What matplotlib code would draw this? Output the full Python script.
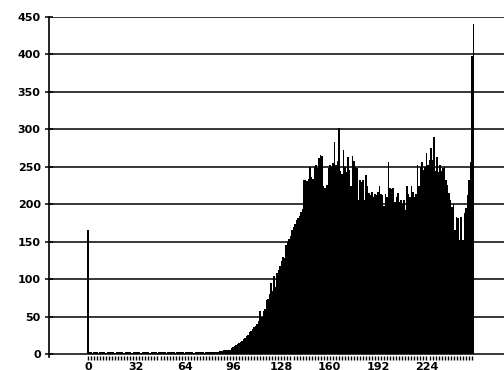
import matplotlib
matplotlib.use("Agg")
import matplotlib.pyplot as plt
import numpy as np

# Histogram counts for grey levels 0..255
counts_000_015 = [165, 3, 3, 2, 3, 3, 3, 2, 3, 3, 3, 3, 2, 3, 3, 3]
counts_016_031 = [3, 3, 2, 3, 3, 3, 3, 3, 2, 3, 3, 3, 3, 2, 3, 3]
counts_032_047 = [3, 3, 3, 2, 3, 3, 3, 3, 3, 2, 3, 3, 3, 3, 2, 3]
counts_048_063 = [3, 3, 3, 3, 2, 3, 3, 3, 3, 3, 2, 3, 3, 3, 3, 3]
counts_064_079 = [2, 3, 3, 3, 3, 3, 2, 3, 3, 3, 3, 3, 3, 2, 3, 3]
counts_080_095 = [3, 3, 3, 3, 3, 3, 3, 4, 4, 4, 5, 5, 5, 6, 6, 8]
counts_096_111 = [9, 11, 12, 13, 15, 16, 18, 20, 22, 24, 26, 29, 31, 33, 36, 38]
counts_112_127 = [40, 44, 58, 50, 57, 60, 72, 74, 80, 95, 84, 104, 90, 108, 112, 118]
counts_128_143 = [124, 130, 128, 146, 150, 154, 158, 166, 170, 174, 179, 181, 184, 190, 194, 232]
counts_144_159 = [233, 231, 234, 250, 236, 234, 250, 252, 248, 262, 266, 264, 224, 222, 226, 248]
counts_160_175 = [252, 250, 255, 283, 253, 258, 302, 245, 240, 272, 250, 243, 263, 246, 225, 265]
counts_176_191 = [258, 250, 248, 205, 232, 230, 233, 205, 239, 224, 215, 212, 216, 210, 214, 212]
counts_192_207 = [216, 225, 214, 212, 197, 214, 210, 257, 222, 220, 222, 203, 210, 215, 203, 205]
counts_208_223 = [200, 206, 192, 224, 214, 210, 224, 216, 210, 214, 252, 224, 250, 256, 246, 250]
counts_224_239 = [268, 252, 259, 275, 259, 290, 245, 263, 243, 252, 245, 248, 250, 232, 226, 215]
counts_240_255 = [205, 196, 200, 165, 183, 182, 152, 183, 152, 188, 195, 212, 232, 256, 398, 440]

counts = (counts_000_015 + counts_016_031 + counts_032_047 + counts_048_063 +
          counts_064_079 + counts_080_095 + counts_096_111 + counts_112_127 +
          counts_128_143 + counts_144_159 + counts_160_175 + counts_176_191 +
          counts_192_207 + counts_208_223 + counts_224_239 + counts_240_255)

x_ticks = [0, 32, 64, 96, 128, 160, 192, 224]
y_ticks = [0, 50, 100, 150, 200, 250, 300, 350, 400, 450]

fig = plt.figure(figsize=(5.04, 3.70), dpi=100)
ax = fig.add_axes([49 / 504, 14.5 / 370, 1 - 49 / 504, (355.5 - 17) / 370])

edges = np.arange(len(counts) + 1) - 0.5
ax.stairs(counts, edges, fill=True, color="black", zorder=3, linewidth=0)

ax.set_xlim(-25.8, 275.3)
ax.set_ylim(-2, 450)

for v in y_ticks:
    ax.axhline(v, color="black", linewidth=1.1, zorder=2)

ax.set_yticks(y_ticks)
ax.set_xticks(x_ticks)
ax.set_xticks(np.arange(0, 256, 2), minor=True)

for s in ["top", "right", "bottom"]:
    ax.spines[s].set_visible(False)
ax.spines["left"].set_linewidth(1.2)
ax.spines["left"].set_bounds(-4, 450)

ax.tick_params(axis="y", direction="inout", length=6, width=1.1, pad=3,
               labelsize=8)
ax.tick_params(axis="x", which="major", direction="out", length=3, width=1.0,
               pad=2, labelsize=8)
ax.tick_params(axis="x", which="minor", direction="out", length=3, width=1.0)

for lab in ax.get_xticklabels() + ax.get_yticklabels():
    lab.set_fontweight("bold")

fig.savefig("out.png", dpi=100)
